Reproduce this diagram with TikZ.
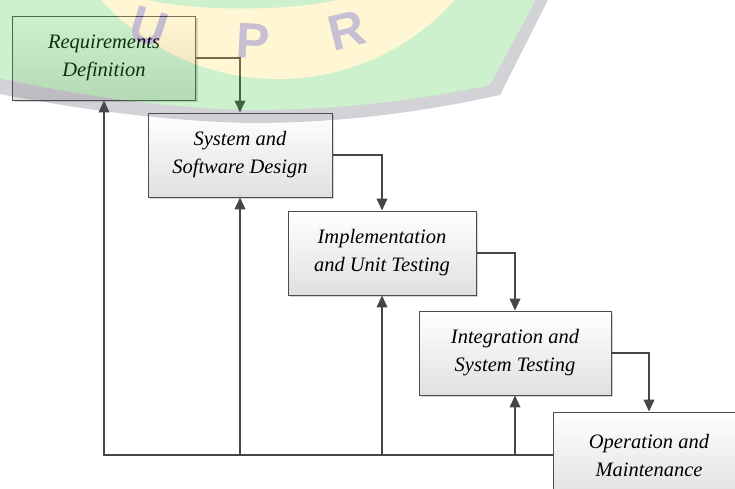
\documentclass[tikz,border=0pt]{standalone}
\usepackage{fontspec}
\setmainfont{Liberation Serif}
\setsansfont{Liberation Sans}
\usetikzlibrary{arrows.meta,shadows}
\definecolor{ln}{HTML}{464646}
\definecolor{wmG}{RGB}{55,195,55}
\definecolor{wmY}{RGB}{255,219,83}
\definecolor{wmB}{RGB}{80,74,96}
\definecolor{wmL}{RGB}{35,0,83}
\begin{document}
\begin{tikzpicture}[x=1pt,y=-1pt,
  box/.style={draw=black!70, line width=0.8pt, top color=white, bottom color=black!12,
    minimum height=85pt, inner sep=0pt, align=center,
    font=\fontsize{20.5}{28}\selectfont\itshape, text=black,
    drop shadow={shadow xshift=2pt,shadow yshift=-2pt,opacity=0.35,fill=black!50}},
  flow/.style={draw=ln, line width=2pt, -{Triangle[length=12pt,width=10.5pt]}},
  wmletter/.style={font=\sffamily\bfseries\fontsize{50}{50}\selectfont, text=wmL, inner sep=0pt}
]
\useasboundingbox (0,0) rectangle (735,488);
\clip (0,0) rectangle (735,488);

% boxes
\node[box, minimum width=183pt, minimum height=84pt] (r) at (104,58) {Requirements\\Definition};
\node[box, minimum width=184pt, minimum height=84pt] (s) at (240,155) {System and\\Software Design};
\node[box, minimum width=188pt, minimum height=84pt] (i) at (382,253) {Implementation\\and Unit Testing};
\node[box, minimum width=192pt, minimum height=84pt] (t) at (515,353) {Integration and\\System Testing};
\node[box, minimum width=192pt, minimum height=86pt] (o) at (649,455) {Operation and\\Maintenance};

% forward flow
\draw[flow] (r.east) -| (s.north);
\draw[flow] (s.east) -| (i.north);
\draw[flow] (i.east) -| (t.north);
\draw[flow] (t.east) -| (o.north);

% feedback
\draw[flow] (o.west) -| (r.south);
\draw[flow] (o.west -| s.south) -- (s.south);
\draw[flow] (o.west -| i.south) -- (i.south);
\draw[flow] (o.west -| t.south) -- (t.south);

% watermark
\begin{scope}[transparency group, opacity=0.25]
  \fill[wmB] (-10,-10) -- (553,-10) -- (500,95) .. controls (400,117) and (320,123) .. (250,123)
     .. controls (160,121) and (70,108) .. (-10,92) -- cycle;
  \fill[wmG] (-10,-10) -- (541,-10) -- (490,85) .. controls (400,104) and (320,110) .. (250,110)
     .. controls (160,108) and (70,94) .. (-10,76) -- cycle;
  \fill[wmY] (278,-158) circle[radius=237];
  \fill[wmG] (140,-2) .. controls (190,12) and (295,12) .. (345,-2) -- cycle;
  \node[wmletter, rotate=-18] (wu) at (149,27) {U};
  \node[wmletter, rotate=-3] (wp) at (253,41) {P};
  \node[wmletter, rotate=14] (wr) at (347,30) {R};
\end{scope}
\end{tikzpicture}
\end{document}
